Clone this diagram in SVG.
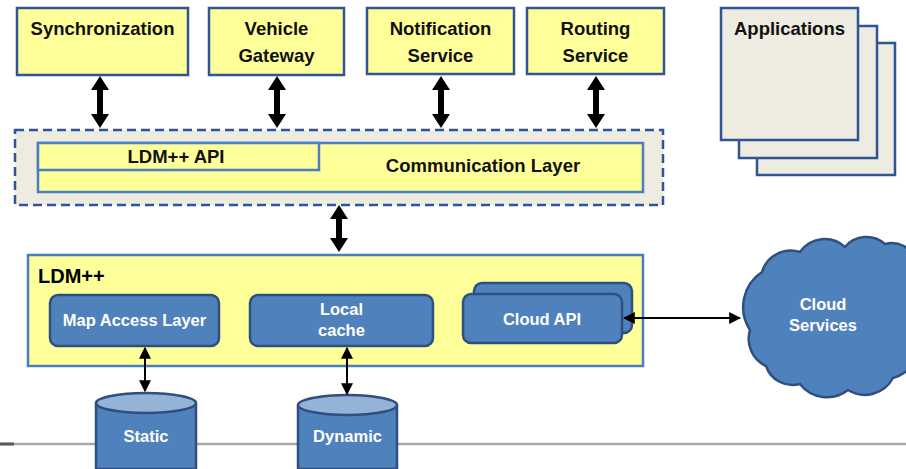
<svg xmlns="http://www.w3.org/2000/svg" width="906" height="469" viewBox="0 0 906 469">
<defs>
<style>
.ybox{fill:#FFFF99;stroke:#2F5597;stroke-width:2.5}
.ybox2{fill:#FFFF99;stroke:#4A7EC2;stroke-width:2.5}
.gbox{fill:#EEEBE0;stroke:#2F5597;stroke-width:2.5}
.bbox{fill:#4F81BD;stroke:#2F4F7F;stroke-width:2.5}
.t{font-family:"Liberation Sans",Arial,sans-serif;font-weight:bold;font-size:18.5px;fill:#111;text-anchor:middle}
.w{font-family:"Liberation Sans",Arial,sans-serif;font-weight:bold;font-size:16.5px;fill:#fff;text-anchor:middle}
.thick{fill:#000}
.thin{stroke:#000;stroke-width:2;fill:none;marker-start:url(#ah);marker-end:url(#ah)}
</style>
<marker id="ah" viewBox="0 0 10 10" refX="9" refY="5" markerWidth="6" markerHeight="6" orient="auto-start-reverse" markerUnits="strokeWidth">
<path d="M0,0 L10,5 L0,10 z" fill="#000"/>
</marker>
</defs>
<rect width="906" height="469" fill="#fff"/>
<line x1="0" y1="444" x2="906" y2="444" stroke="#A6A6A6" stroke-width="2.5"/>
<line x1="0" y1="444" x2="14" y2="444" stroke="#595959" stroke-width="3"/>

<g id="synchronization"><rect class="ybox" x="17" y="8" width="171" height="67"/><text class="t" x="102.5" y="35">Synchronization</text></g>
<g id="vehicle-gateway"><rect class="ybox" x="209" y="8" width="135" height="67"/><text class="t" x="276.5" y="35">Vehicle</text><text class="t" x="276.5" y="62">Gateway</text></g>
<g id="notification-service"><rect class="ybox" x="367" y="8" width="147" height="66"/><text class="t" x="440.5" y="35">Notification</text><text class="t" x="440.5" y="62">Service</text></g>
<g id="routing-service"><rect class="ybox" x="527" y="8" width="137" height="66"/><text class="t" x="595.5" y="35">Routing</text><text class="t" x="595.5" y="62">Service</text></g>

<g id="applications">
<rect class="gbox" x="757" y="43" width="138" height="132"/>
<rect class="gbox" x="739" y="26" width="138" height="132"/>
<rect class="gbox" x="721" y="8" width="137" height="132"/>
<text class="t" x="789.5" y="35">Applications</text>
</g>

<g id="communication-layer">
<rect x="15" y="130" width="648" height="75" fill="#EEEBE0" stroke="#2F5597" stroke-width="2.5" stroke-dasharray="9,5"/>
<rect class="ybox2" x="38" y="143" width="605" height="49"/>
<text class="t" x="483" y="172">Communication Layer</text>
</g>
<g id="ldm-api"><rect class="ybox2" x="38" y="143" width="281" height="27"/><text class="t" x="176" y="163">LDM++ API</text></g>

<g id="ldm">
<rect class="ybox2" x="28" y="255" width="615" height="111"/>
<text x="38" y="283" font-family="Liberation Sans,Arial,sans-serif" font-weight="bold" font-size="20" fill="#000">LDM++</text>
</g>
<g id="map-access-layer"><rect class="bbox" x="50" y="295" width="169" height="51" rx="8"/><text class="w" x="134.5" y="326">Map Access Layer</text></g>
<g id="local-cache"><rect class="bbox" x="250" y="295" width="183" height="51" rx="8"/><text class="w" x="341.5" y="315">Local</text><text class="w" x="341.5" y="336">cache</text></g>
<g id="cloud-api"><rect class="bbox" x="474" y="283" width="158" height="50" rx="8"/><rect class="bbox" x="463" y="294" width="159" height="49" rx="8"/><text class="w" x="542" y="325">Cloud API</text></g>

<g id="static">
<path class="bbox" d="M96,403 L96,469 L196,469 L196,403"/>
<ellipse cx="146" cy="403" rx="50" ry="10" fill="#95B3D7" stroke="#2F4F7F" stroke-width="2.5"/>
<text class="w" x="146" y="442">Static</text>
</g>
<g id="dynamic">
<path class="bbox" d="M298,405 L298,469 L397,469 L397,405"/>
<ellipse cx="347.5" cy="405" rx="49.5" ry="10" fill="#95B3D7" stroke="#2F4F7F" stroke-width="2.5"/>
<text class="w" x="347.5" y="442">Dynamic</text>
</g>

<g id="cloud-services">
<path fill="#4F81BD" stroke="#2F4F7F" stroke-width="2.5" d="M750,330 A42,42 0 0 1 762,272 A30,30 0 0 1 800,252 A30,30 0 0 1 845,247 A28,28 0 0 1 885,244 A24,24 0 0 1 915,260 L915,340 L918,340 A34,34 0 0 1 893,378 A32,32 0 0 1 848,390 A34,34 0 0 1 800,384 A28,28 0 0 1 766,366 A30,30 0 0 1 750,330 Z"/>
<text class="w" x="823" y="310">Cloud</text>
<text class="w" x="823" y="331">Services</text>
</g>

<g id="connectors">
<polygon class="thick" points="100,76 109,90 103,90 103,114 109,114 100,128 91,114 97,114 97,90 91,90"/>
<polygon class="thick" points="277,76 286,90 280,90 280,114 286,114 277,128 268,114 274,114 274,90 268,90"/>
<polygon class="thick" points="441,76 450,90 444,90 444,114 450,114 441,128 432,114 438,114 438,90 432,90"/>
<polygon class="thick" points="596,76 605,90 599,90 599,114 605,114 596,128 587,114 593,114 593,90 587,90"/>
<polygon class="thick" points="339,205 348,219 342,219 342,238 348,238 339,252 330,238 336,238 336,219 330,219"/>
<line class="thin" x1="145" y1="348" x2="145" y2="391"/>
<line class="thin" x1="347" y1="348" x2="347" y2="394"/>
<line class="thin" x1="624" y1="318" x2="740" y2="318"/>
</g>
</svg>
